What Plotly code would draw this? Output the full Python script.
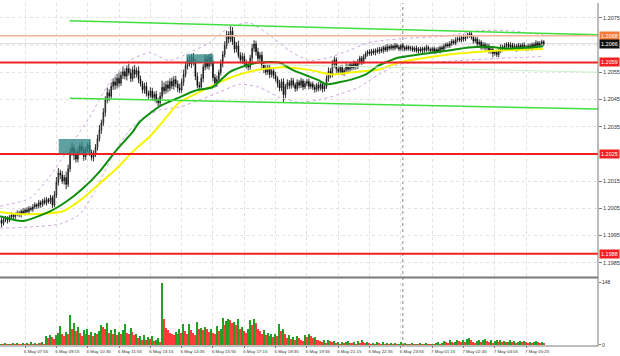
import plotly.graph_objects as go

# ---------------- data (prices in pips above 1.2000) ----------------
BASE = 1.2000
PIP = 0.0001
first_bar = 3
first_open_pips = 0.2

close_pips = [
    0.5, -0.5, 0.8, 1.2, 0.6, 1.8, 2.5, 1.9, 2.8, 3.2,
    2.6, 3.9, 3.3, 4.4, 3.8, 5.0, 4.6, 5.5, 6.3, 5.8,
    7.1, 6.4, 7.8, 7.0, 8.2, 7.5, 8.9, 6.2, 9.8, 14.5,
    18.0, 17.2, 15.0, 16.3, 13.8, 19.5, 25.8, 27.2, 24.5, 23.1,
    25.9, 27.8, 26.2, 24.0, 26.6, 28.3, 25.5, 23.7, 24.9, 27.4,
    30.5, 33.8, 36.4, 40.2, 44.8, 47.5, 46.2, 49.8, 51.5, 50.2,
    52.8, 51.0, 53.9, 55.2, 53.6, 56.4, 54.8, 52.7, 55.9, 54.3,
    55.6, 52.4, 50.8, 48.6, 49.9, 47.2, 46.5, 48.1, 45.8, 46.9,
    44.6, 43.8, 46.2, 49.5, 48.2, 50.4, 49.1, 51.6, 50.0, 52.3,
    50.8, 49.2, 48.5, 51.4, 54.2, 57.3, 59.5, 58.1, 60.4, 58.7,
    53.5, 50.2, 49.6, 52.8, 56.9, 59.8, 57.2, 60.5, 58.3, 53.1,
    50.6, 52.4, 54.9, 58.2, 61.5, 64.8, 68.9, 67.2, 70.1, 66.4,
    63.5, 64.8, 61.2, 59.6, 60.8, 58.2, 57.6, 56.9, 60.2, 63.8,
    65.4, 62.5, 60.1, 61.3, 57.8, 56.2, 55.1, 56.8, 54.2, 55.5,
    53.9, 52.6, 50.8, 49.2, 51.5, 46.8, 49.7, 51.2, 50.1, 51.9,
    50.4, 49.0, 51.3, 50.2, 51.8, 49.6, 50.9, 51.6, 49.8, 50.7,
    49.5, 48.7, 50.3, 49.1, 50.6, 48.9, 49.8, 52.6, 55.4, 54.1,
    57.9, 59.6, 56.2, 55.3, 56.8, 54.9, 55.7, 57.2, 56.1, 57.8,
    56.7, 58.3, 57.1, 58.8, 60.2, 58.9, 60.7, 61.8, 62.5, 61.9,
    62.8, 62.2, 63.1, 62.6, 63.5, 62.9, 64.1, 63.2, 64.4, 63.8,
    64.6, 63.9, 64.9, 64.2, 63.6, 64.8, 64.1, 63.5, 64.3, 63.7,
    64.0, 63.2, 63.9, 62.8, 63.6, 62.9, 63.8, 63.1, 64.2, 63.4,
    63.0, 63.7, 62.6, 63.4, 62.8, 64.1, 63.5, 64.6, 65.2, 64.7,
    65.6, 66.4, 65.8, 66.9, 67.4, 66.8, 67.9, 67.2, 68.1, 68.6,
    69.2, 67.8, 66.5, 67.2, 65.4, 66.1, 64.3, 65.2, 63.9, 64.6,
    62.8, 63.5, 61.9, 62.4, 61.5, 62.9, 64.3, 63.6, 64.8, 65.3,
    64.2, 65.1, 63.8, 64.6, 63.5, 64.9, 63.9, 65.0, 64.4, 63.8,
    64.7, 63.9, 65.2, 64.5, 65.8, 64.9, 65.6, 66.2, 65.5,
]

wick_up_pips = [
    0.8, 1.2, 0.6, 1.0, 0.9, 0.7, 1.1, 0.8, 0.6, 1.0,
    0.9, 0.7, 1.2, 0.6, 1.0, 0.8, 0.7, 1.1, 0.9, 0.6,
    1.0, 0.8, 0.7, 1.2, 0.9, 0.6, 1.0, 0.8, 1.5, 2.0,
    1.8, 1.2, 1.5, 1.0, 2.2, 1.6, 1.4, 1.8, 1.2, 2.0,
    1.5, 1.0, 1.7, 1.3, 1.2, 0.8, 1.6, 1.1, 1.4, 1.2,
    1.5, 1.8, 1.2, 1.6, 1.4, 1.9, 1.3, 1.5, 1.2, 1.8,
    1.6, 2.2, 1.4, 1.9, 1.2, 1.1, 1.7, 1.5, 1.3, 1.8,
    1.2, 1.6, 1.4, 1.0, 1.3, 1.5, 1.1, 1.4, 1.2, 1.0,
    1.3, 1.1, 1.5, 2.4, 1.8, 1.4, 1.6, 1.2, 1.5, 1.3,
    1.4, 1.2, 1.6, 1.3, 1.8, 1.5, 1.2, 1.6, 1.4, 1.7,
    1.2, 1.5, 1.3, 1.6, 1.1, 1.8, 1.4, 1.2, 1.5, 1.3,
    1.2, 1.4, 1.1, 1.5, 1.3, 1.6, 1.4, 1.2, 1.9, 1.5,
    1.6, 1.3, 1.8, 1.2, 1.4, 1.1, 1.5, 1.3, 1.2, 1.6,
    1.4, 1.2, 1.5, 1.1, 1.3, 1.0, 1.4, 1.2, 1.1, 1.3,
    1.0, 1.2, 0.9, 1.4, 1.1, 1.3, 1.0, 1.2, 0.9, 1.1,
    1.0, 0.8, 1.1, 0.9, 1.2, 0.8, 1.0, 0.9, 1.1, 0.8,
    0.9, 1.0, 0.8, 1.1, 0.7, 0.9, 1.0, 1.2, 1.4, 1.1,
    1.5, 1.2, 0.9, 1.1, 0.8, 1.0, 0.9, 1.1, 0.8, 1.0,
    0.9, 1.0, 0.8, 1.1, 0.9, 0.8, 1.0, 0.9, 0.7, 1.0,
    0.8, 0.9, 0.7, 1.0, 0.8, 0.9, 0.7, 0.8, 1.0, 0.7,
    0.8, 0.6, 0.9, 0.7, 0.8, 0.6, 0.9, 0.7, 0.8, 0.6,
    0.7, 0.8, 0.6, 0.9, 0.7, 0.8, 0.6, 0.7, 0.9, 0.6,
    0.7, 0.6, 0.8, 0.7, 0.9, 0.6, 0.8, 0.9, 0.7, 0.8,
    0.9, 0.8, 0.7, 1.0, 0.8, 0.9, 0.7, 1.0, 0.8, 0.9,
    0.8, 1.0, 0.7, 0.9, 0.8, 1.0, 0.7, 0.9, 0.8, 1.0,
    0.9, 0.7, 1.0, 0.8, 0.9, 0.7, 1.0, 0.8, 0.9, 0.7,
    0.8, 0.9, 0.7, 1.0, 0.8, 0.9, 0.7, 0.8, 1.0, 0.7,
    0.8, 0.9, 0.7, 0.8, 1.0, 0.7, 0.9, 0.8, 0.6,
]

wick_dn_pips = [
    1.0, 1.5, 0.8, 0.9, 1.2, 0.7, 0.8, 1.0, 0.9, 0.7,
    0.8, 1.0, 0.7, 0.9, 0.8, 1.1, 0.7, 0.9, 0.8, 1.0,
    0.8, 1.2, 0.9, 0.7, 1.0, 0.8, 0.9, 1.2, 0.8, 1.0,
    1.2, 1.5, 1.0, 1.3, 1.8, 1.0, 1.2, 1.5, 1.8, 1.3,
    1.2, 1.4, 1.0, 1.6, 1.2, 1.0, 1.3, 1.2, 1.5, 1.0,
    1.2, 1.0, 1.4, 1.1, 1.5, 1.2, 1.8, 1.0, 1.3, 1.6,
    1.2, 1.5, 1.0, 1.4, 1.2, 1.6, 1.0, 1.3, 1.1, 1.5,
    1.2, 1.4, 1.0, 1.3, 1.5, 1.1, 1.4, 1.0, 1.2, 1.5,
    1.0, 1.2, 1.4, 1.0, 1.3, 1.1, 1.5, 1.0, 1.2, 1.4,
    1.3, 1.5, 1.2, 1.0, 1.4, 1.1, 1.3, 1.0, 1.5, 1.2,
    1.4, 1.1, 1.3, 1.0, 1.5, 1.2, 1.0, 1.3, 1.1, 1.4,
    1.2, 1.0, 1.3, 1.1, 1.4, 1.0, 1.2, 1.5, 1.1, 1.3,
    1.4, 1.2, 1.0, 1.3, 1.5, 1.1, 1.3, 1.2, 1.0, 1.4,
    1.2, 1.4, 1.1, 1.0, 1.3, 1.5, 1.2, 1.0, 1.4, 1.1,
    1.3, 1.0, 1.4, 1.2, 1.1, 2.8, 1.3, 1.0, 1.2, 1.1,
    1.0, 1.2, 0.9, 1.1, 1.0, 1.2, 0.8, 1.0, 1.1, 0.9,
    1.0, 1.2, 0.9, 1.1, 0.8, 1.3, 1.0, 0.9, 1.1, 1.2,
    1.0, 1.2, 1.4, 0.9, 1.1, 1.0, 1.2, 0.8, 1.1, 0.9,
    1.0, 0.8, 1.1, 0.9, 1.0, 1.2, 0.8, 0.9, 1.0, 0.8,
    0.9, 0.8, 1.0, 0.7, 0.9, 0.8, 1.0, 0.7, 0.8, 0.9,
    0.7, 0.9, 0.8, 0.6, 0.8, 0.7, 0.9, 0.8, 0.6, 0.8,
    0.9, 0.7, 0.8, 0.6, 0.9, 0.7, 0.8, 0.9, 0.6, 0.8,
    0.8, 0.7, 0.9, 0.8, 0.6, 0.9, 0.7, 0.8, 0.9, 0.7,
    0.8, 0.9, 0.7, 0.8, 0.9, 0.7, 0.8, 0.9, 0.7, 0.8,
    0.9, 0.8, 1.0, 0.7, 0.9, 0.8, 1.0, 0.9, 0.8, 1.0,
    0.9, 1.0, 1.4, 0.8, 0.9, 1.0, 0.8, 0.9, 0.7, 0.8,
    0.9, 0.7, 1.0, 0.8, 0.9, 0.7, 0.8, 1.0, 0.7, 0.9,
    0.8, 0.7, 0.9, 0.8, 0.7, 0.9, 0.8, 0.7, 0.8,
]

volume = [
    3, 4, 2, 5, 3, 4, 2, 6, 3, 5,
    4, 3, 6, 2, 5, 4, 7, 3, 5, 4,
    6, 5, 8, 4, 22, 18, 25, 20, 15, 24,
    30, 46, 28, 22, 32, 26, 73, 38, 52, 34,
    44, 30, 22, 36, 28, 40, 25, 33, 22, 30,
    26, 34, 49, 44, 38, 52, 30, 36, 28, 39,
    24, 33, 28, 36, 51, 30, 26, 42, 31, 24,
    28, 18, 22, 14, 25, 12, 20, 16, 22, 10,
    14, 18, 8, 148, 63, 42, 37, 30, 28, 24,
    32, 26, 38, 30, 51, 34, 28, 51, 36, 30,
    24, 56, 38, 42, 36, 44, 40, 32, 38, 30,
    28, 46, 34, 40, 66, 48, 58, 63, 60, 52,
    56, 49, 62, 38, 44, 34, 30, 40, 61, 48,
    63, 52, 40, 34, 28, 36, 24, 30, 22, 26,
    20, 28, 22, 51, 34, 40, 26, 18, 24, 16,
    20, 14, 22, 18, 12, 10, 24, 20, 26, 22,
    18, 20, 14, 12, 10, 8, 12, 6, 14, 10,
    8, 10, 6, 9, 4, 7, 5, 8, 10, 6,
    5, 8, 4, 10, 6, 12, 7, 5, 9, 6,
    4, 6, 3, 8, 5, 4, 7, 3, 5, 4,
    6, 3, 5, 2, 4, 8, 3, 5, 2, 4,
    3, 5, 2, 4, 3, 6, 2, 3, 5, 4,
    2, 4, 3, 5, 8, 4, 6, 10, 7, 5,
    12, 8, 6, 9, 14, 10, 7, 12, 9, 15,
    18, 12, 8, 6, 10, 14, 8, 12, 16, 10,
    8, 12, 6, 10, 14, 9, 12, 8, 10, 7,
    9, 12, 8, 10, 6, 9, 11, 7, 10, 8,
    6, 9, 5, 8, 10, 7, 6, 9, 5,
]

# indicator lines (bar index, pips)
ma_green_bar = [3.2, 14.9, 28.7, 37.3, 45.5, 54.1, 62.8, 71.0, 74.5, 84.7, 94.9, 103.5, 111.7, 120.3, 129.0,
                135.6, 145.8, 152.4, 159.5, 166.1, 169.7, 176.3, 183.0, 190.1, 196.7, 206.9, 217.1, 232.3,
                242.5, 252.7, 262.9, 273.1, 280.7]
ma_green_pips = [2.1, 0.3, 3.9, 7.6, 12.3, 18.5, 26.5, 33.1, 36.7, 42.5, 45.8, 48.4, 49.5, 55.0, 57.5,
                 58.6, 58.6, 56.0, 53.9, 52.0, 50.6, 51.3, 52.4, 54.2, 57.5, 60.4, 61.5, 63.0,
                 64.1, 64.4, 63.7, 64.1, 64.6]
ma_yellow_bar = [3.2, 13.4, 35.3, 45.5, 54.1, 62.8, 71.0, 79.6, 86.2, 94.9, 105.0, 115.2, 125.4, 135.6,
                 145.8, 156.0, 162.6, 172.8, 183.0, 196.7, 206.9, 232.3, 257.8, 280.7]
ma_yellow_pips = [3.6, 2.8, 3.9, 8.7, 14.1, 19.6, 25.8, 31.3, 36.7, 44.0, 47.7, 51.3, 54.2, 56.0,
                  56.8, 56.4, 55.7, 54.2, 55.0, 56.0, 58.6, 61.5, 63.0, 63.6]
bb_up_bar = [3.2, 18.5, 28.7, 38.8, 49.0, 59.2, 69.4, 79.6, 89.8, 100.0, 110.1, 120.3, 130.5, 140.7,
             150.9, 161.1, 171.2, 181.4, 191.6, 206.9, 232.3, 247.6, 262.9, 280.7]
bb_up_pips = [5.8, 8.7, 16.7, 27.6, 38.5, 51.3, 59.3, 62.2, 59.3, 62.2, 65.9, 71.4, 73.2, 68.8,
              63.0, 59.3, 60.4, 63.0, 65.9, 67.3, 68.4, 70.3, 70.3, 68.8]
bb_dn_bar = [3.2, 18.5, 33.8, 44.0, 51.6, 59.2, 66.9, 74.5, 84.7, 94.9, 105.0, 115.2, 125.4, 135.6,
             145.8, 156.0, 166.1, 176.3, 186.5, 196.7, 206.9, 222.1, 237.4, 257.8, 280.7]
bb_dn_pips = [-2.3, -1.9, -0.8, 2.8, 11.2, 22.2, 31.3, 37.5, 41.1, 42.2, 44.8, 47.7, 50.6, 49.5,
              45.8, 44.0, 44.8, 46.9, 49.5, 54.2, 57.9, 58.6, 59.3, 60.1, 60.8]

# drawn objects
channel_up_bar, channel_up_pips = [38.8, 308.7], [73.9, 68.8]
channel_dn_bar, channel_dn_pips = [38.8, 308.7], [45.5, 41.5]
mid_line_bar, mid_line_pips = [137.1, 308.7], [57.9, 55.0]
red_levels = [1.20586, 1.2025, 1.19883]
red_labels = ["1.2059", "1.2025", "1.1988"]
salmon_level, salmon_label = 1.20684, "1.2068"
bid_level, bid_label = 1.20655, "1.2066"
box1_bar, box1_pips = [33.2, 49.5], [25.1, 30.5]
box2_bar, box2_pips = [98.4, 112.2], [58.6, 61.6]
day_sep_bar = 209

price_ticks = [1.1985, 1.1995, 1.2005, 1.2015, 1.2035, 1.2045, 1.2055, 1.2075]
price_grid = [1.2025, 1.2065]
tick_bars = [0, 16, 32, 48, 64, 80, 96, 112, 128, 144, 160, 176, 192, 208, 224, 240, 256, 272]
tick_text = ["6 May 06:35", "6 May 07:55", "6 May 09:15", "6 May 10:35", "6 May 11:55", "6 May 13:15",
             "6 May 14:35", "6 May 15:55", "6 May 17:15", "6 May 18:35", "6 May 19:55", "6 May 21:15",
             "6 May 22:35", "6 May 23:55", "7 May 01:15", "7 May 02:45", "7 May 04:05", "7 May 05:25"]

# ---------------- build ----------------
def px(p):
    return BASE + p * PIP

n = min(len(close_pips), len(wick_up_pips), len(wick_dn_pips), len(volume))
bars = list(range(first_bar, first_bar + n))
closes = [px(c) for c in close_pips[:n]]
opens = [px(first_open_pips)] + closes[:-1]
highs = [max(o, c) + w * PIP for o, c, w in zip(opens, closes, wick_up_pips)]
lows = [min(o, c) - w * PIP for o, c, w in zip(opens, closes, wick_dn_pips)]
vol = volume[:n]
vol_colors = ["#22a022" if (i == 0 or vol[i] > vol[i - 1]) else "#ff3b3b" for i in range(n)]

FONT = "Liberation Sans"
GRID = "#e2e2e2"
fig = go.Figure()

fig.add_trace(go.Candlestick(
    x=bars, open=opens, high=highs, low=lows, close=closes,
    increasing=dict(line=dict(color="#000000", width=0.8), fillcolor="#ffffff"),
    decreasing=dict(line=dict(color="#000000", width=0.8), fillcolor="#000000"),
    whiskerwidth=0, showlegend=False, hoverinfo="skip", xaxis="x", yaxis="y"))

for bx, by, col, dash, w in [
    (bb_up_bar, bb_up_pips, "#cfa6dc", "dot", 1),
    (bb_dn_bar, bb_dn_pips, "#cfa6dc", "dot", 1),
    (ma_yellow_bar, ma_yellow_pips, "#f5f500", "solid", 2),
    (ma_green_bar, ma_green_pips, "#0d8f0d", "solid", 2),
]:
    fig.add_trace(go.Scatter(x=bx, y=[px(v) for v in by], mode="lines",
                             line=dict(color=col, width=w, dash=dash, shape="spline", smoothing=0.6),
                             showlegend=False, hoverinfo="skip", xaxis="x", yaxis="y"))

for bx, by, col, w in [
    (channel_up_bar, channel_up_pips, "#3ee03e", 1.5),
    (channel_dn_bar, channel_dn_pips, "#3ee03e", 1.5),
    (mid_line_bar, mid_line_pips, "#c9f2c9", 1),
]:
    fig.add_trace(go.Scatter(x=bx, y=[px(v) for v in by], mode="lines",
                             line=dict(color=col, width=w), showlegend=False,
                             hoverinfo="skip", xaxis="x", yaxis="y"))

fig.add_trace(go.Bar(x=bars, y=vol, marker=dict(color=vol_colors, line=dict(width=0)),
                     width=0.75, showlegend=False, hoverinfo="skip", xaxis="x2", yaxis="y2"))

shapes = []
for g in price_grid:
    shapes.append(dict(type="line", xref="paper", x0=0, x1=1, yref="y", y0=g, y1=g,
                       line=dict(color=GRID, width=1, dash="dot"), layer="below"))
for lvl in red_levels:
    shapes.append(dict(type="line", xref="paper", x0=0, x1=1, yref="y", y0=lvl, y1=lvl,
                       line=dict(color="#f22020", width=2), layer="above"))
shapes.append(dict(type="line", xref="paper", x0=0, x1=1, yref="y", y0=salmon_level, y1=salmon_level,
                   line=dict(color="#f6b49a", width=1.5), layer="above"))
shapes.append(dict(type="line", xref="paper", x0=0, x1=1, yref="y", y0=bid_level, y1=bid_level,
                   line=dict(color="#d8d8d8", width=1), layer="below"))
for bb, pp in [(box1_bar, box1_pips), (box2_bar, box2_pips)]:
    shapes.append(dict(type="rect", xref="x", yref="y", x0=bb[0], x1=bb[1], y0=px(pp[0]), y1=px(pp[1]),
                       fillcolor="rgba(50,135,135,0.78)", line=dict(width=0), layer="above"))
shapes.append(dict(type="line", xref="x", yref="paper", x0=day_sep_bar, x1=day_sep_bar, y0=0, y1=1,
                   line=dict(color="#8a8a8a", width=1, dash="dot"), layer="below"))
MAIN_BOTTOM = 0.1994
shapes.append(dict(type="line", xref="paper", yref="paper", x0=0, x1=1, y0=MAIN_BOTTOM, y1=MAIN_BOTTOM,
                   line=dict(color="#7a7a7a", width=2)))
shapes.append(dict(type="line", xref="paper", yref="paper", x0=0, x1=1, y0=0, y1=0,
                   line=dict(color="#7a7a7a", width=1)))
shapes.append(dict(type="line", xref="paper", yref="paper", x0=1, x1=1, y0=0, y1=1,
                   line=dict(color="#7a7a7a", width=1)))

annotations = []
def price_label(y, text, bg):
    annotations.append(dict(xref="paper", x=1, xanchor="left", xshift=1, yref="y", y=y, yanchor="middle",
                            text=text, showarrow=False, bgcolor=bg, borderpad=1,
                            font=dict(family=FONT, size=5.5, color="#ffffff")))
price_label(salmon_level, salmon_label, "#f47a3a")
price_label(bid_level, bid_label, "#111111")
for lvl, t in zip(red_levels, red_labels):
    price_label(lvl, t, "#f22020")

grid = dict(showgrid=True, gridcolor=GRID, griddash="dot", gridwidth=1)
xr = [3.2, 308.7]
fig.update_layout(
    width=620, height=356, margin=dict(l=0, r=20, t=0, b=10),
    paper_bgcolor="#ffffff", plot_bgcolor="#ffffff", boxgap=0.5,
    font=dict(family=FONT, size=5, color="#333333"),
    xaxis=dict(domain=[0, 1], range=xr, anchor="y", tickmode="array", tickvals=tick_bars,
               showticklabels=False, ticks="", zeroline=False, rangeslider=dict(visible=False), **grid),
    yaxis=dict(domain=[MAIN_BOTTOM, 1], range=[px(-20.48), px(80.47)], side="right", anchor="x",
               tickmode="array", tickvals=price_ticks, tickformat=".4f", ticks="outside", ticklen=3,
               tickcolor="#7a7a7a", tickfont=dict(family=FONT, size=5.5, color="#333333"),
               zeroline=False, fixedrange=True, **grid),
    xaxis2=dict(domain=[0, 1], range=xr, anchor="y2", matches="x", tickmode="array", tickvals=tick_bars,
                ticktext=tick_text, ticks="outside", ticklen=2, tickcolor="#7a7a7a",
                ticklabelshift=11, tickangle=0,
                tickfont=dict(family=FONT, size=4.4, color="#333333"), zeroline=False, **grid),
    yaxis2=dict(domain=[0.003, 0.185], range=[0, 148], side="right", anchor="x2",
                tickmode="array", tickvals=[0, 148], ticktext=["0", "148"], ticks="outside", ticklen=2,
                tickcolor="#7a7a7a", tickfont=dict(family=FONT, size=5, color="#333333"),
                showgrid=False, zeroline=False),
    shapes=shapes, annotations=annotations, bargap=0,
)

fig.write_html("out.html")
